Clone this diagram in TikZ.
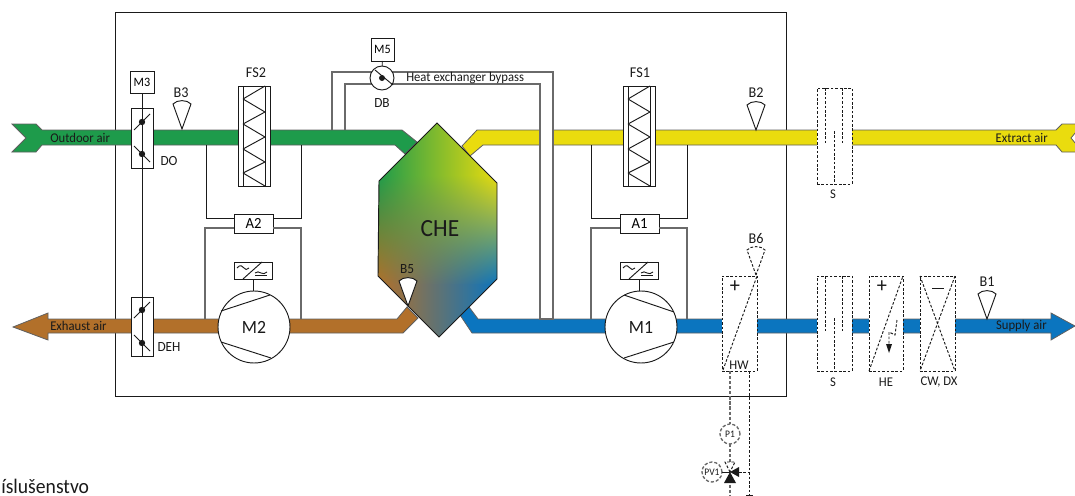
\documentclass[tikz,border=0pt]{standalone}
\usepackage{fontspec}
\setmainfont{Carlito}[FakeStretch=0.95]
\usetikzlibrary{arrows.meta,shadings}
\definecolor{cg}{HTML}{1E9B4B}
\definecolor{cy}{HTML}{EADC0E}
\definecolor{cb}{HTML}{0B75BF}
\definecolor{cr}{HTML}{B2702A}
\definecolor{lg}{HTML}{6A6A6A}
\definecolor{dk}{HTML}{1A1A1A}
\newcommand{\fsz}[1]{\fontsize{#1}{#1}\selectfont}
\tikzset{
  ln/.style={draw=dk,line width=0.7pt},
  gl/.style={draw=lg,line width=0.8pt},
  duct/.style={draw=dk!70,line width=0.6pt,line join=miter},
  dsh/.style={draw=dk,line width=0.7pt,dash pattern=on 2pt off 1.3pt},
  gdsh/.style={draw=lg,line width=1pt,dash pattern=on 2.4pt off 1.4pt},
  wbox/.style={draw=dk,line width=0.7pt,fill=white,inner sep=0pt,outer sep=0pt},
  dbox/.style={dsh,fill=white,inner sep=0pt,outer sep=0pt},
  lab/.style={inner sep=0pt,text=dk,font=\fsz{10}},
  mlab/.style={inner sep=0pt,text=dk,font=\fsz{10.5}},
  blab/.style={inner sep=0pt,text=dk,font=\fsz{11.2}},
  slab/.style={inner sep=0pt,text=dk,font=\fsz{10}},
  circ/.style={circle,draw=dk,line width=0.7pt,fill=white,inner sep=0pt,outer sep=0pt},
  dcirc/.style={circle,gdsh,fill=white,inner sep=0pt,outer sep=0pt},
}
% name x1 y1 x2 y2 style text
\newcommand{\pxbox}[7]{\node[#6,minimum width={(#4-#2)*0.75pt},minimum height={(#5-#3)*0.75pt}] (#1) at ({(#2+#4)/2},{(#3+#5)/2}) {#7};}
% sensor: tip x,y, style
\newcommand{\sensor}[3]{\path[#3] (#1,#2) -- ++(-9,-25) .. controls +(4,-4.5) and +(-4,-4.5) .. ++(18,0) -- cycle;}
% filter: name x1
\newcommand{\fltr}[2]{%
  \pxbox{#1}{#2}{86}{#2+32}{186}{wbox}{}
  \draw[ln] ({#2+5},86) -- ({#2+5},186) ({#2+27},86) -- ({#2+27},186);
  \draw[ln,line join=bevel] ({#2+27},86) -- ({#2+5},99) -- ({#2+27},112) -- ({#2+5},124) -- ({#2+27},137) -- ({#2+5},149) -- ({#2+27},162) -- ({#2+5},173) -- ({#2+27},186);}
% inverter: name x1
\newcommand{\inverter}[2]{%
  \pxbox{#1}{#2}{262}{#2+38}{279}{wbox}{}
  \draw[ln] ({#2+9},279) -- ({#2+28},262);
  \draw[ln] ({#2+3},268) .. controls ({#2+6},264) and ({#2+9},266) .. ({#2+10},268) .. controls ({#2+11},270) and ({#2+13},270) .. ({#2+15},268);
  \draw[ln] ({#2+21},273) .. controls ({#2+23},271) and ({#2+25},272) .. ({#2+27},273) .. controls ({#2+29},274) and ({#2+31},274) .. ({#2+33},272);
  \draw[ln] ({#2+21},275.5) -- ({#2+33},275.5);}
% damper blades around x=142: cy1 cy2
\newcommand{\blades}[2]{%
  \draw[ln] (134,{#1+8}) -- (150,{#1-8});
  \draw[ln] (134,{#2-8}) -- (150,{#2+8});
  \fill[dk] (142,#1) circle (3.2);
  \fill[dk] (142,#2) circle (3.2);}
\begin{document}
\begin{tikzpicture}[x=0.75pt,y=-0.75pt]
\useasboundingbox (0,0) rectangle (1075,496);
\clip (0,0) rectangle (1075,496);
% casing
\coordinate (fA) at (115,12);
\coordinate (fB) at (786,396);
\draw[ln] (fA) rectangle (fB);
% ducts
\draw[duct,fill=cg] (12,124) -- (36,124) -- (42,130) -- (402,130) -- (417,142) -- (405,154) -- (395,145) -- (42,145) -- (36,152) -- (12,152) -- (26,138) -- cycle;
\draw[duct,fill=cy] (540,130) -- (477,130) -- (462,146) -- (470,156) -- (483,145) -- (540,145);
\draw[duct,fill=cy] (553,145) -- (553,130) -- (1056,130) -- (1062,124) -- (1076,124) -- (1076,132) -- (1071,138) -- (1076,144) -- (1076,152) -- (1062,152) -- (1056,145) -- cycle;
\draw[duct,fill=cr] (13,327) -- (48,313) -- (48,319) -- (397,319) -- (407,307) -- (418,318) -- (403,333) -- (48,333) -- (48,340) -- cycle;
\draw[duct,fill=cb] (1075,326) -- (1051,340) -- (1051,333) -- (472,333) -- (460,315) -- (469,307) -- (478,319) -- (1051,319) -- (1051,313) -- cycle;
% heat exchanger
\begin{scope}
  \clip (437,123) -- (497,183) -- (497,279) -- (439,337) -- (378,276) -- (379,181) -- cycle;
  \shade[left color=cg,right color=cy] (378,122) rectangle (498,176);
  \shade[upper left=cg,upper right=cy,lower left=cr,lower right=cb] (378,175) rectangle (498,285);
  \shade[left color=cr,right color=cb] (378,284) rectangle (498,338);
\end{scope}
\node[inner sep=0pt,text=dk,font=\fsz{18.5}] (CHE) at (440,229) {CHE};
\draw[ln,line join=miter] (437,123) -- (497,183) -- (497,279) -- (439,337) -- (378,276) -- (379,181) -- cycle;
% bypass
\coordinate (bo1) at (332,130);
\coordinate (bo2) at (553,319);
\coordinate (bi1) at (345,130);
\coordinate (bi2) at (540,319);
\draw[gl] (bo1) |- (553,72) -- (bo2) -- (bi2) -- (540,84) -| (bi1);
\pxbox{M5}{371}{38}{394}{61}{wbox}{\fsz{9.6}M5}
\node[circ,minimum size=18pt] (DBc) at (382,78) {};
\draw[ln] (M5) -- (DBc);
\draw[ln] (375,70) -- (393,85);
\fill[dk] (DBc) circle (3);
\node[lab,anchor=west] (hxb) at (406,78) {Heat exchanger bypass};
\node[mlab] (DBl) at (382,103) {DB};
% dampers
\pxbox{DOb}{131}{108}{153}{168}{wbox}{}
\pxbox{DEHb}{131}{297}{153}{356}{wbox}{}
\pxbox{M3}{130}{71}{154}{93}{wbox}{\fsz{9.6}M3}
\draw[ln] (M3) -- (DEHb.south);
\blades{122}{154}
\blades{310}{343}
\node[mlab] (DOl) at (169,161) {DO};
\node[mlab] (DEHl) at (169,347) {DEH};
% filters
\fltr{FSb2}{238}
\fltr{FSb1}{623}
\node[blab] (FS2l) at (256,73) {FS2};
\node[blab] (FS1l) at (640,73) {FS1};
% pressure lines
\pxbox{A2}{234}{214}{273}{233}{wbox}{\fsz{11.6}A2}
\pxbox{A1}{620}{214}{659}{233}{wbox}{\fsz{11.6}A1}
\coordinate (a2a) at (206,145);
\coordinate (a2b) at (301,145);
\coordinate (a2c) at (205,319);
\coordinate (a2d) at (301,319);
\draw[ln] (a2a) |- (234,218);
\draw[ln] (a2b) |- (273,218);
\draw[gl] (a2c) |- (234,228);
\draw[gl] (a2d) |- (273,228);
\coordinate (a1a) at (591,145);
\coordinate (a1b) at (687,145);
\coordinate (a1c) at (591,319);
\coordinate (a1d) at (687,319);
\draw[ln] (a1a) |- (620,218);
\draw[ln] (a1b) |- (659,218);
\draw[gl] (a1c) |- (620,228);
\draw[gl] (a1d) |- (659,228);
% fans
\inverter{INV2}{234}
\inverter{INV1}{620}
\node[circ,minimum size=54pt,font=\fsz{14},text=dk] (M2) at (254,327) {M2};
\node[circ,minimum size=54pt,font=\fsz{14},text=dk] (M1) at (641,327) {M1};
\draw[ln] (253,279) -- (253,291);
\draw[ln] (639,279) -- (639,291);
\draw[ln] (221,311) -- (270,295) (221,342) -- (271,358);
\draw[ln] (624,295) -- (674,312) (624,358) -- (674,342);
% sensors
\sensor{182}{129}{ln,fill=white}
\node[blab] (B3l) at (181,93) {B3};
\sensor{756}{130}{ln,fill=white}
\node[blab] (B2l) at (756,93) {B2};
\sensor{987}{319}{ln,fill=white}
\node[blab] (B1l) at (987,282) {B1};
\sensor{408}{306}{ln,fill=white}
\node[mlab] (B5l) at (407,269) {B5};
\sensor{756}{275}{dsh,fill=white}
\node[blab] (B6l) at (756,239) {B6};
% heating coil
\coordinate (pl) at (730,496);
\coordinate (pr) at (749,495);
\pxbox{HW}{722}{276}{757}{371}{dbox}{}
\draw[dsh] (723,370) -- (757,276);
\node[inner sep=0pt,text=dk,font=\fsz{16}] (HWp) at (735,287) {+};
\node[slab] (HWl) at (739,365) {HW};
\node[dcirc,minimum size=15pt,font=\fsz{7.5},text=dk] (P1) at (730,434) {P1};
\node[dcirc,minimum size=15pt,font=\fsz{7.5},text=dk] (PV1) at (712,472) {PV1};
\draw[gdsh] (HW.south -| pl) -- (P1);
\draw[gdsh] (P1) -- (pl);
\draw[dsh] (HW.south -| pr) -- (pr);
\draw[ln] (746,495) -- (753,495);
% silencers
\pxbox{S1}{817}{88}{852}{184}{dbox}{}
\draw[dsh] (825,88) -- (825,143) (842,88) -- (842,143) (834,131) -- (834,184);
\node[slab] (S1l) at (833,194) {S};
\pxbox{S2}{817}{276}{852}{371}{dbox}{}
\draw[dsh] (825,276) -- (825,331) (842,276) -- (842,331) (834,318) -- (834,371);
\node[slab] (S2l) at (833,382) {S};
% electric heater
\pxbox{HE}{869}{276}{903}{371}{dbox}{}
\draw[dsh] (869,371) -- (903,276);
\node[inner sep=0pt,text=dk,font=\fsz{16}] (HEp) at (882,287) {+};
\draw[dsh] (897,320) -- (895,335) -- (889,332) -- (889,345);
\fill[dk] (886,344) -- (892,344) -- (889,353) -- cycle;
\node[slab] (HEl) at (886,382) {HE};
% cooler
\pxbox{CW}{920}{276}{955}{371}{dbox}{}
\draw[dsh] (920,276) -- (955,371) (955,276) -- (920,371);
\draw[dk,line width=0.7pt] (932,288) -- (944,288);
\node[slab] (CWl) at (939,382) {CW, DX};
% valve
\coordinate (vc) at (730,472);
\draw[dsh,fill=white] (vc) -- (725,462) -- (735,462) -- cycle;
\draw[dk,line width=0.7pt] (PV1) -- (vc);
\draw[dsh] (739,472) -- (pr |- vc);
\fill[dk] (vc) -- (739,467) -- (739,477) -- cycle;
\fill[dk] (vc) -- (724,483) -- (736,483) -- cycle;
% duct labels
\node[lab,anchor=west] (OA) at (50,138) {Outdoor air};
\node[lab,anchor=west] (EA) at (50,326) {Exhaust air};
\node[lab,anchor=east] (XA) at (1048,138) {Extract air};
\node[lab,anchor=east] (SA) at (1047,326) {Supply air};
\node[inner sep=0pt,anchor=base west,text=dk,font=\fsz{15.5}] (ACC) at (1,493) {íslušenstvo};
\end{tikzpicture}
\end{document}
